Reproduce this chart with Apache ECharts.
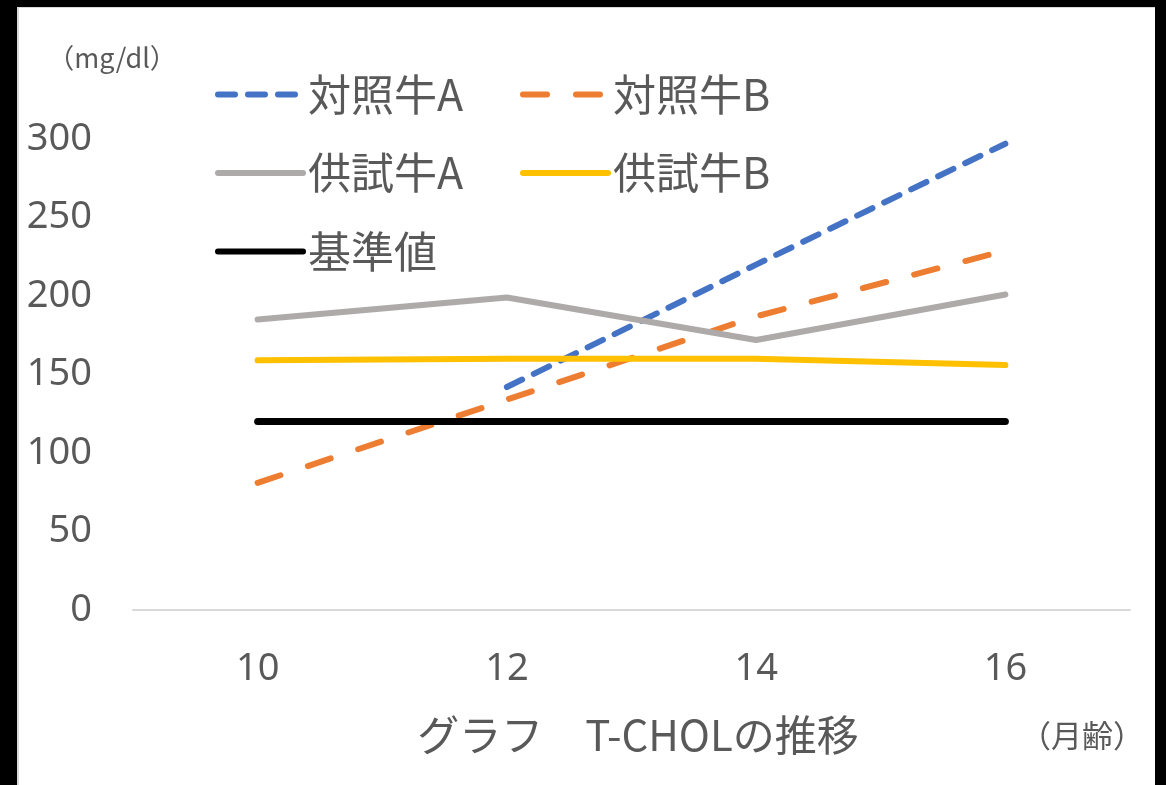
<!DOCTYPE html>
<html>
<head>
<meta charset="utf-8">
<script src="https://cdn.jsdelivr.net/npm/echarts@6/dist/echarts.min.js"></script>
<style>
  html, body { margin: 0; padding: 0; background: #000; }
  #paper { position: absolute; left: 17px; top: 7px; width: 1136px; height: 778px; background: #fff; border-left: 2px solid #d9d9d9; border-top: 1px solid #d9d9d9; }
  #chart { position: absolute; left: 0; top: 0; width: 1166px; height: 785px; }
</style>
</head>
<body>
<div id="paper"></div>
<div id="chart"></div>
<script>
// 月齢（カテゴリ）
const ages = ['10', '12', '14', '16'];

// T-CHOL (mg/dl)
const controlA = [null, 142, 220, 297];
const controlB = [81, 134, 187, 229];
const testA = [185, 199, 172, 201];
const testB = [159, 160, 160, 156];
const reference = [120, 120, 120, 120];

const seriesNames = ['対照牛A', '対照牛B', '供試牛A', '供試牛B', '基準値'];

const labelColor = '#595959';
const jpFont = '"Noto Sans CJK JP", "Noto Sans", sans-serif';
const numFont = '"Noto Sans", "Noto Sans CJK JP", sans-serif';

function lineSeries(name, data, color, width, dash) {
  return {
    name: name,
    type: 'line',
    data: data,
    symbol: 'none',
    connectNulls: false,
    lineStyle: { color: color, width: width, type: dash || 'solid', cap: 'round', join: 'round' },
    itemStyle: { color: color },
    emphasis: { disabled: true }
  };
}

const legendCommon = {
  orient: 'vertical',
  top: 73,
  padding: 0,
  itemWidth: 85,
  itemHeight: 14,
  itemGap: 35.5,
  selectedMode: false,
  textStyle: { color: labelColor, fontSize: 43, fontFamily: jpFont, lineHeight: 43 },
  itemStyle: { opacity: 0 },
  lineStyle: { width: 6 }
};

const chart = echarts.init(document.getElementById('chart'), null, { renderer: 'canvas' });

chart.setOption({
  backgroundColor: 'transparent',
  animation: false,
  grid: { left: 133, right: 36, top: 139, bottom: 175 },
  legend: [
    Object.assign({}, legendCommon, { left: 215, data: [seriesNames[0], seriesNames[2], seriesNames[4]] }),
    Object.assign({}, legendCommon, { left: 520, data: [seriesNames[1], seriesNames[3]] })
  ],
  xAxis: {
    type: 'category',
    data: ages,
    boundaryGap: true,
    axisTick: { show: false },
    axisLine: { show: true, lineStyle: { color: '#d9d9d9', width: 2 } },
    axisLabel: { color: labelColor, fontSize: 38, fontFamily: numFont, margin: 40 },
    splitLine: { show: false }
  },
  yAxis: {
    type: 'value',
    min: 0,
    max: 300,
    interval: 50,
    axisLine: { show: false },
    axisTick: { show: false },
    splitLine: { show: false },
    axisLabel: { color: labelColor, fontSize: 38, fontFamily: numFont, margin: 41 }
  },
  series: [
    lineSeries(seriesNames[0], controlA, '#4472c4', 6, [17, 13]),
    lineSeries(seriesNames[1], controlB, '#ed7d31', 6, [24, 29]),
    lineSeries(seriesNames[2], testA, '#aeaaaa', 6),
    lineSeries(seriesNames[3], testB, '#ffc000', 6),
    lineSeries(seriesNames[4], reference, '#000000', 7)
  ],
  graphic: [
    {
      type: 'text',
      x: 112, y: 58,
      style: { text: '（mg/dl）', fill: labelColor, font: '27px ' + jpFont, align: 'center', verticalAlign: 'middle' }
    },
    {
      type: 'text',
      x: 638, y: 735,
      style: { text: 'グラフ　T-CHOLの推移', fill: labelColor, font: '42px ' + jpFont, align: 'center', verticalAlign: 'middle' }
    },
    {
      type: 'text',
      x: 1082, y: 735,
      style: { text: '（月齢）', fill: labelColor, font: '31px ' + jpFont, align: 'center', verticalAlign: 'middle' }
    }
  ]
});
</script>
</body>
</html>
